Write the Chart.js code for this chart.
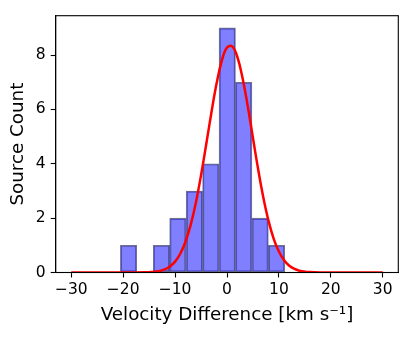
<!DOCTYPE html>
<html>
<head>
<meta charset="utf-8">
<script src="https://cdn.jsdelivr.net/npm/chart.js@4"></script>
<style>
  html, body { margin: 0; padding: 0; background: #fff; }
  #wrap { width: 415px; height: 337px; }
</style>
</head>
<body>
<div id="wrap"><canvas id="histChart" width="415" height="337"></canvas></div>
<script>
// histogram bins (centres, km/s) and counts
const binCenters = [-18.96, -15.79, -12.62, -9.46, -6.29, -3.12, 0.05, 3.22, 6.38, 9.55];
const binCounts  = [1, 0, 1, 2, 3, 4, 9, 7, 2, 1];

// gaussian fit curve
const fitX = [-30, -25, -20, -18, -16, -15, -14, -13, -12, -11, -10, -9, -8, -7, -6, -5, -4, -3, -2, -1,
              0, 1, 2, 3, 4, 5, 6, 7, 8, 9, 10, 11, 12, 13, 14, 15, 16, 18, 20, 25, 30];
const fitY = [0, 0, 0, 0.001, 0.005, 0.012, 0.026, 0.056, 0.114, 0.22, 0.40, 0.69, 1.13, 1.75, 2.57, 3.58, 4.72, 5.89, 6.96, 7.80,
              8.28, 8.32, 7.93, 7.15, 6.12, 4.95, 3.80, 2.76, 1.90, 1.24, 0.77, 0.45, 0.25, 0.13, 0.065, 0.031, 0.014, 0.002, 0, 0, 0];

const xTicks = [-30, -20, -10, 0, 10, 20, 30];
const yTicks = [0, 2, 4, 6, 8];

const fontFam = "'DejaVu Sans', sans-serif";

// top / right spines like matplotlib's box
const frameBox = {
    id: 'frameBox',
    afterDatasetsDraw(chart) {
        const a = chart.chartArea;
        const ctx = chart.ctx;
        ctx.save();
        ctx.strokeStyle = '#000';
        ctx.lineWidth = 1.1;
        ctx.strokeRect(a.left, a.top, a.right - a.left, a.bottom - a.top);
        ctx.restore();
    }
};

new Chart(document.getElementById('histChart').getContext('2d'), {
    type: 'bar',
    data: {
        datasets: [
            {
                type: 'line',
                data: fitX.map((x, i) => ({ x: x, y: fitY[i] })),
                borderColor: '#ff0000',
                borderWidth: 2.5,
                pointRadius: 0,
                tension: 0.4,
                fill: false,
                order: 0
            },
            {
                type: 'bar',
                data: binCenters.map((x, i) => ({ x: x, y: binCounts[i] })),
                backgroundColor: 'rgba(0, 0, 255, 0.5)',
                borderColor: 'rgba(20, 20, 70, 0.6)',
                borderWidth: 1.2,
                borderSkipped: false,
                barPercentage: 1,
                categoryPercentage: 1,
                order: 1
            }
        ]
    },
    options: {
        responsive: false,
        animation: false,
        layout: { padding: { left: 0, right: 16.7, top: 15.7, bottom: 0 } },
        plugins: { legend: { display: false }, tooltip: { enabled: false } },
        scales: {
            x: {
                type: 'linear',
                min: -33,
                max: 33,
                offset: false,
                afterFit: s => { s.height = 64.5; },
                afterBuildTicks: s => { s.ticks = xTicks.map(v => ({ value: v })); },
                grid: { offset: false, drawOnChartArea: false, tickLength: 5, tickColor: '#000', tickWidth: 1.1 },
                border: { color: '#000', width: 1.1 },
                ticks: {
                    color: '#000',
                    font: { family: fontFam, size: 15.5 },
                    padding: 3,
                    maxRotation: 0,
                    callback: v => String(v).replace('-', '\u2212')
                },
                title: {
                    display: true,
                    text: 'Velocity Difference [km s\u207B\u00B9]',
                    color: '#000',
                    font: { family: fontFam, size: 18.3 },
                    padding: { top: 0, bottom: 11 }
                }
            },
            y: {
                min: 0,
                max: 9.45,
                afterFit: s => { s.width = 55.7; },
                afterBuildTicks: s => { s.ticks = yTicks.map(v => ({ value: v })); },
                grid: { drawOnChartArea: false, tickLength: 5, tickColor: '#000', tickWidth: 1.1 },
                border: { color: '#000', width: 1.1 },
                ticks: {
                    color: '#000',
                    font: { family: fontFam, size: 15.5 },
                    padding: 5
                },
                title: {
                    display: true,
                    text: 'Source Count',
                    color: '#000',
                    font: { family: fontFam, size: 18.3 },
                    padding: { top: 7, bottom: 0 }
                }
            }
        }
    },
    plugins: [frameBox]
});
</script>
</body>
</html>
